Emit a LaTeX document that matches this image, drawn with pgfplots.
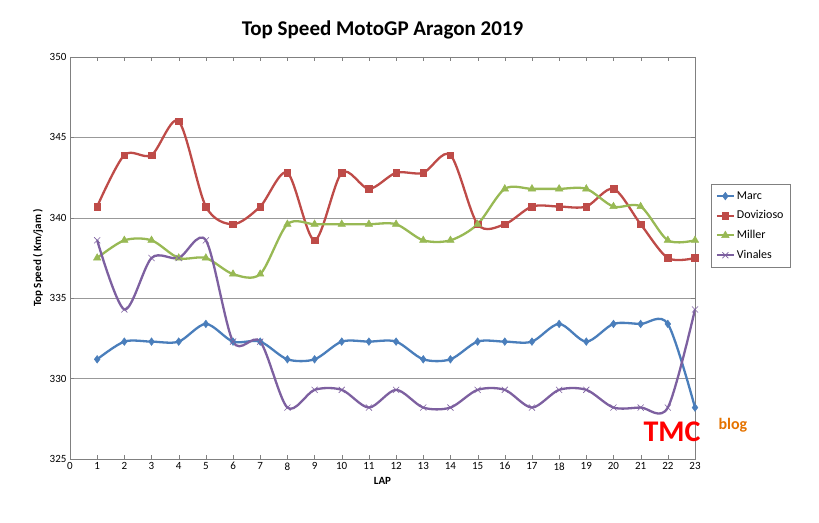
\documentclass[border=0pt]{standalone}
\usepackage{pgfplots}
\pgfplotsset{compat=1.18}
\usepackage{fontspec}
\setmainfont{Carlito}
\definecolor{cM}{HTML}{4A7EBB}
\definecolor{cD}{HTML}{BE4B48}
\definecolor{cMi}{HTML}{98B954}
\definecolor{cV}{HTML}{7D60A0}
\begin{document}
\begin{tikzpicture}
\path[use as bounding box] (0,0) rectangle (819pt,522pt);
\begin{axis}[at={(70pt,63pt)},anchor=south west,width=625pt,height=402pt,scale only axis,
 xmin=0,xmax=23,ymin=325,ymax=350,xtick={0,...,23},ytick={325,330,...,350},
 ymajorgrids,major grid style={gray!80},axis line style={gray},tick style={gray},
 /pgf/number format/assume math mode=true,tick label style={font=\fontsize{11}{13}\selectfont},
 xlabel={\textbf{LAP}},ylabel={\textbf{Top Speed ( Km/jam )}},label style={font=\fontsize{11}{13}\selectfont},
 title={\textbf{Top Speed MotoGP Aragon 2019}},title style={font=\fontsize{21}{24}\selectfont,yshift=8pt},
 legend style={at={(1.025,0.58)},anchor=west,draw=gray,font=\fontsize{12}{14}\selectfont,row sep=6pt,inner sep=5pt},
 legend cell align=left,legend image post style={line width=2pt},
 every axis plot/.append style={line width=2.3pt,smooth,tension=0.5}]
\addplot[cM,mark=diamond*,mark size=3.8pt,mark options={solid,line width=0.5pt}] coordinates {(1,331.2)(2,332.3)(3,332.3)(4,332.3)(5,333.4)(6,332.3)(7,332.3)(8,331.2)(9,331.2)(10,332.3)(11,332.3)(12,332.3)(13,331.2)(14,331.2)(15,332.3)(16,332.3)(17,332.3)(18,333.4)(19,332.3)(20,333.4)(21,333.4)(22,333.4)(23,328.2)};
\addplot[cD,mark=square*,mark size=3.3pt,mark options={solid,line width=0.5pt}] coordinates {(1,340.7)(2,343.9)(3,343.9)(4,346.0)(5,340.7)(6,339.6)(7,340.7)(8,342.8)(9,338.6)(10,342.8)(11,341.8)(12,342.8)(13,342.8)(14,343.9)(15,339.6)(16,339.6)(17,340.7)(18,340.7)(19,340.7)(20,341.8)(21,339.6)(22,337.5)(23,337.5)};
\addplot[cMi,mark=triangle*,mark size=4.3pt,mark options={solid,line width=0.5pt}] coordinates {(1,337.5)(2,338.6)(3,338.6)(4,337.5)(5,337.5)(6,336.5)(7,336.5)(8,339.6)(9,339.6)(10,339.6)(11,339.6)(12,339.6)(13,338.6)(14,338.6)(15,339.6)(16,341.8)(17,341.8)(18,341.8)(19,341.8)(20,340.7)(21,340.7)(22,338.6)(23,338.6)};
\addplot[cV,mark=x,mark size=4.3pt,mark options={solid,line width=0.6pt}] coordinates {(1,338.6)(2,334.3)(3,337.5)(4,337.5)(5,338.6)(6,332.3)(7,332.3)(8,328.2)(9,329.3)(10,329.3)(11,328.2)(12,329.3)(13,328.2)(14,328.2)(15,329.3)(16,329.3)(17,328.2)(18,329.3)(19,329.3)(20,328.2)(21,328.2)(22,328.2)(23,334.3)};
\legend{Marc,Dovizioso,Miller,Vinales}
\end{axis}
\node[anchor=west,text=red,font=\bfseries\fontsize{30}{30}\selectfont] at (640pt,90pt) {TMC};
\node[anchor=west,text=orange!90!black,font=\bfseries\fontsize{16}{16}\selectfont] at (715pt,97pt) {blog};
\end{tikzpicture}
\end{document}
